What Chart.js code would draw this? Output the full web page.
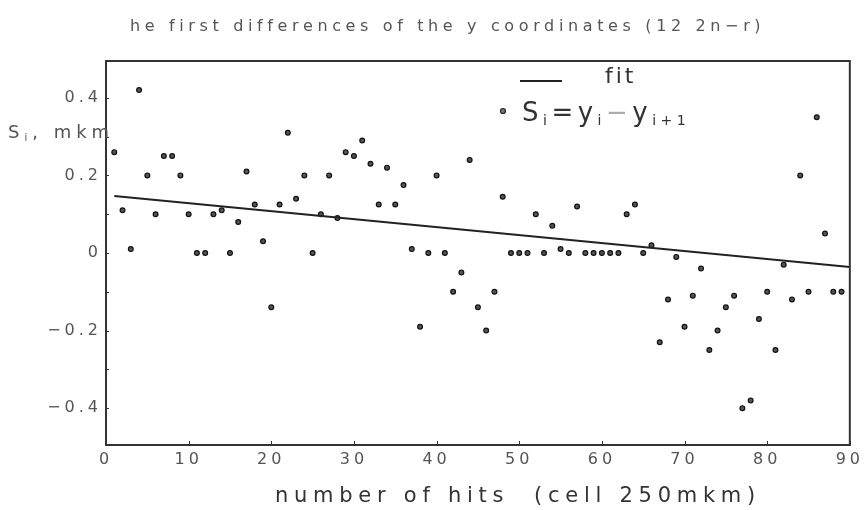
<!DOCTYPE html>
<html>
<head>
<meta charset="utf-8">
<script src="https://cdn.jsdelivr.net/npm/chart.js@4.4.1/dist/chart.umd.min.js"></script>
<style>
    body { margin: 0; background: #fff; }
    #box { width: 865px; height: 510px; }
</style>
</head>
<body>
<div id="box"><canvas id="hitsChart" width="865" height="510"></canvas></div>
<script>
// hit number (cell 250mkm)
let hits = [1, 2, 3, 4, 5, 6, 7, 8, 9, 10, 11, 12, 13, 14, 15, 16, 17, 18, 19, 20,
    21, 22, 23, 24, 25, 26, 27, 28, 29, 30, 31, 32, 33, 34, 35, 36, 37, 38, 39, 40,
    41, 42, 43, 44, 45, 46, 47, 48, 49, 50, 51, 52, 53, 54, 55, 56, 57, 58, 59, 60,
    61, 62, 63, 64, 65, 66, 67, 68, 69, 70, 71, 72, 73, 74, 75, 76, 77, 78, 79, 80,
    81, 82, 83, 84, 85, 86, 87, 88, 89];

// first differences S_i = y_i - y_i+1, mkm
let sValues = [0.26, 0.11, 0.01, 0.42, 0.20, 0.10, 0.25, 0.25, 0.20, 0.10,
    0, 0, 0.10, 0.11, 0, 0.08, 0.21, 0.125, 0.03, -0.14,
    0.125, 0.31, 0.14, 0.20, 0, 0.10, 0.20, 0.09, 0.26, 0.25,
    0.29, 0.23, 0.125, 0.22, 0.125, 0.175, 0.01, -0.19, 0, 0.20,
    0, -0.10, -0.05, 0.24, -0.14, -0.20, -0.10, 0.145, 0, 0,
    0, 0.10, 0, 0.07, 0.01, 0, 0.12, 0, 0, 0,
    0, 0, 0.10, 0.125, 0, 0.02, -0.23, -0.12, -0.01, -0.19,
    -0.11, -0.04, -0.25, -0.20, -0.14, -0.11, -0.40, -0.38, -0.17, -0.10,
    -0.25, -0.03, -0.12, 0.20, -0.10, 0.35, 0.05, -0.10, -0.10];

// straight line fit (end points)
let fitX = [1, 90];
let fitY = [0.147, -0.036];

// axis ticks
let xTicks = [0, 10, 20, 30, 40, 50, 60, 70, 80, 90];
let yTicks = [-0.4, -0.2, 0, 0.2, 0.4];

let chartTitle = 'he first differences of the y coordinates (12 2n\u2212r)';
let xTitle = 'number of hits  (cell 250mkm)';

let FONT = '"DejaVu Sans", sans-serif';

function toPoints(xs, ys) {
    return xs.map(function (x, i) {
        return { x: x, y: ys[i] };
    });
}

// text stretched to a given width with letter spacing
function spacedText(ctx, text, x, y, width) {
    ctx.letterSpacing = '0px';
    let w = ctx.measureText(text).width;
    let ls = (width - w) / text.length;
    ctx.letterSpacing = ls + 'px';
    ctx.fillText(text, x, y);
    ctx.letterSpacing = '0px';
}

// draws parts one after another, returns x at the end
function runText(ctx, parts, x, y) {
    parts.forEach(function (p) {
        ctx.font = p.size + 'px ' + FONT;
        ctx.fillStyle = p.color || '#333';
        ctx.fillText(p.t, x, y + (p.dy || 0));
        x += ctx.measureText(p.t).width;
    });
    return x;
}

let spacingPlugin = {
    id: 'spacing',
    beforeDraw: function (chart) {
        chart.ctx.letterSpacing = '4px';
    },
    afterDraw: function (chart) {
        chart.ctx.letterSpacing = '0px';
    }
};

let overlayPlugin = {
    id: 'overlay',
    afterDraw: function (chart) {
        let ctx = chart.ctx;
        let a = chart.chartArea;
        let xs = chart.scales.x;
        let ys = chart.scales.y;
        ctx.save();

        // frame
        ctx.strokeStyle = '#333';
        ctx.lineWidth = 2;
        ctx.strokeRect(a.left, a.top, a.right - a.left, a.bottom - a.top);

        // inner tick marks
        ctx.lineWidth = 1;
        xTicks.forEach(function (v) {
            let px = Math.round(xs.getPixelForValue(v)) + 0.5;
            ctx.beginPath();
            ctx.moveTo(px, a.bottom);
            ctx.lineTo(px, a.bottom - 4);
            ctx.stroke();
        });
        for (let v = -0.4; v <= 0.41; v += 0.1) {
            let py = Math.round(ys.getPixelForValue(v)) + 0.5;
            ctx.beginPath();
            ctx.moveTo(a.left, py);
            ctx.lineTo(a.left + 3, py);
            ctx.stroke();
        }

        // titles
        ctx.fillStyle = '#555';
        ctx.textBaseline = 'alphabetic';
        ctx.textAlign = 'left';
        ctx.font = '16px ' + FONT;
        spacedText(ctx, chartTitle, 130, 31, 635);

        ctx.fillStyle = '#333';
        ctx.font = '21px ' + FONT;
        spacedText(ctx, xTitle, 275, 502, 486);

        // y label
        ctx.letterSpacing = '5px';
        runText(ctx, [
            { t: 'S', size: 18, color: '#555' },
            { t: 'i', size: 10, dy: 3, color: '#555' },
            { t: ', mkm', size: 18, color: '#555' }
        ], 8, 138);

        // legend
        ctx.letterSpacing = '0px';
        ctx.strokeStyle = '#222';
        ctx.lineWidth = 2;
        ctx.beginPath();
        ctx.moveTo(520, 81);
        ctx.lineTo(562, 81);
        ctx.stroke();
        ctx.letterSpacing = '3px';
        runText(ctx, [{ t: 'fit', size: 22 }], 605, 83);

        ctx.lineWidth = 1.2;
        ctx.fillStyle = '#777';
        ctx.beginPath();
        ctx.arc(503, 111, 2.5, 0, Math.PI * 2);
        ctx.fill();
        ctx.stroke();
        ctx.letterSpacing = '4.5px';
        runText(ctx, [
            { t: 'S', size: 26 },
            { t: 'i', size: 14, dy: 4 },
            { t: '=', size: 26 },
            { t: 'y', size: 26 },
            { t: 'i', size: 14, dy: 4 },
            { t: '\u2212', size: 26, color: '#aaa' },
            { t: 'y', size: 26 },
            { t: 'i+1', size: 14, dy: 4 }
        ], 522, 121);

        ctx.restore();
    }
};

let ctxHits = document.getElementById('hitsChart').getContext('2d');

let hitsChart = new Chart(ctxHits, {
    type: 'scatter',
    data: {
        datasets: [{
            type: 'line',
            label: 'fit',
            data: toPoints(fitX, fitY),
            borderColor: '#222',
            borderWidth: 2,
            pointRadius: 0,
            fill: false
        }, {
            label: 'S',
            data: toPoints(hits, sValues),
            pointStyle: 'circle',
            pointRadius: 2.4,
            borderWidth: 1.2,
            borderColor: '#111',
            backgroundColor: '#555'
        }]
    },
    options: {
        responsive: false,
        animation: false,
        devicePixelRatio: 1,
        layout: {
            padding: { top: 61, right: 15, left: 0, bottom: 0 }
        },
        plugins: {
            legend: { display: false },
            title: { display: false },
            tooltip: { enabled: false }
        },
        scales: {
            x: {
                type: 'linear',
                min: 0,
                max: 90,
                afterFit: function (scale) { scale.height = 65; },
                afterBuildTicks: function (scale) {
                    scale.ticks = xTicks.map(function (v) { return { value: v }; });
                },
                grid: { display: false, drawTicks: false },
                border: { display: false },
                ticks: {
                    padding: 5,
                    color: '#555',
                    font: { family: FONT, size: 16 },
                    maxRotation: 0
                }
            },
            y: {
                min: -0.495,
                max: 0.495,
                afterFit: function (scale) { scale.width = 106; },
                afterBuildTicks: function (scale) {
                    scale.ticks = yTicks.map(function (v) { return { value: v }; });
                },
                grid: { display: false, drawTicks: false },
                border: { display: false },
                ticks: {
                    padding: 4,
                    color: '#555',
                    font: { family: FONT, size: 16 },
                    callback: function (v) {
                        let s = String(Math.round(v * 10) / 10);
                        return s.replace('-', '\u2212');
                    }
                }
            }
        }
    },
    plugins: [spacingPlugin, overlayPlugin]
});
</script>
</body>
</html>
